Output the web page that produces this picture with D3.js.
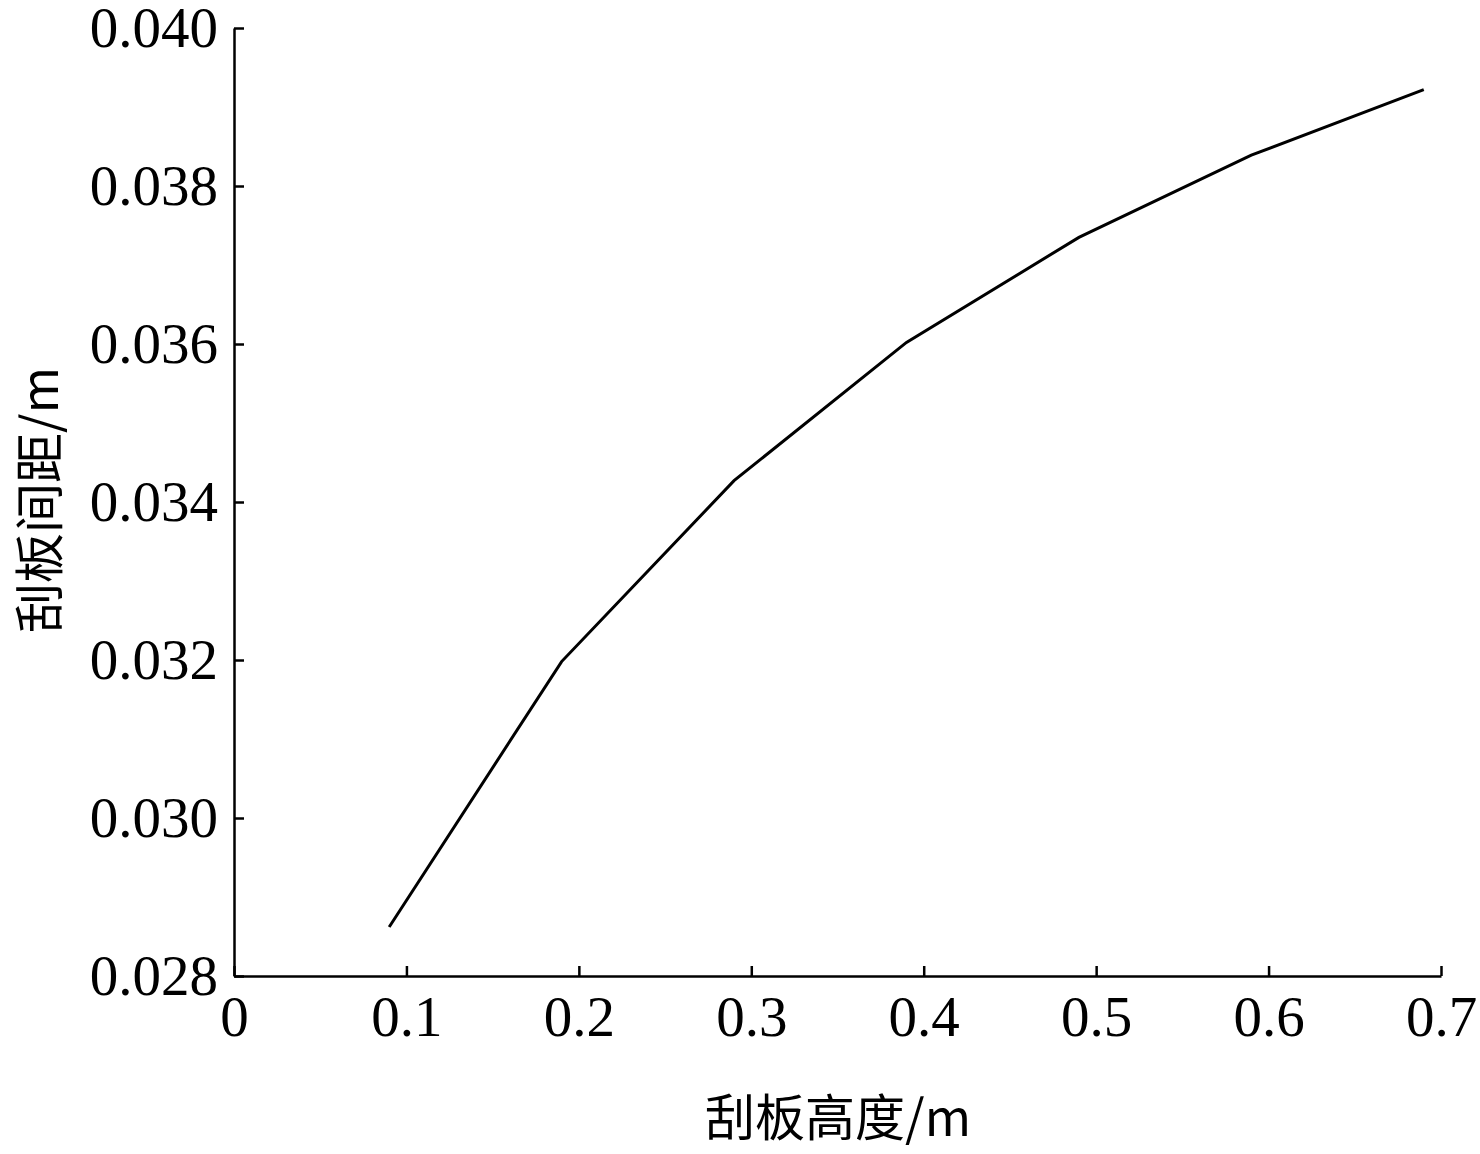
<!DOCTYPE html>
<html><head><meta charset="utf-8">
<script src="https://cdn.jsdelivr.net/npm/d3@7"></script>
<style>body{margin:0;background:#fff}</style></head>
<body><svg id="c" width="1480" height="1154"></svg>
<script>
const xValues=[0.09,0.19,0.29,0.39,0.49,0.59,0.69];
const yValues=[0.02862,0.03198,0.03427,0.03602,0.03735,0.03839,0.03922];
const xTicks=[0,0.1,0.2,0.3,0.4,0.5,0.6,0.7];
const yTicks=[0.028,0.030,0.032,0.034,0.036,0.038,0.040];
const svg=d3.select("#c");
const x=d3.scaleLinear().domain([0,0.7]).range([234,1441]);
const y=d3.scaleLinear().domain([0.028,0.040]).range([976,28]);
const font="'Liberation Serif','Times New Roman',serif";
const xa=svg.append("g").attr("transform","translate(0,976)")
 .call(d3.axisBottom(x).tickValues(xTicks).tickSizeInner(-10).tickSizeOuter(0).tickPadding(20).tickFormat(d=>d===0?"0":d3.format(".1f")(d)));
const ya=svg.append("g").attr("transform","translate(234,0)")
 .call(d3.axisLeft(y).tickValues(yTicks).tickSizeInner(-10).tickSizeOuter(0).tickPadding(16).tickFormat(d3.format(".3f")));
[xa,ya].forEach(a=>{a.selectAll("path,line").attr("stroke","#000").attr("stroke-width",2.5);
 a.selectAll("text").attr("font-family",font).attr("font-size",57).attr("fill","#000");});
xa.selectAll("text").attr("dy","0.71em");
svg.append("path").datum(xValues.map((v,i)=>[v,yValues[i]]))
 .attr("d",d3.line().x(d=>x(d[0])).y(d=>y(d[1])))
 .attr("fill","none").attr("stroke","#000").attr("stroke-width",3);
svg.append("text").attr("x",838).attr("y",1136).attr("text-anchor","middle")
 .attr("font-family","'Noto Sans CJK SC',"+font).attr("font-size",50).text("刮板高度/m");
svg.append("text").attr("transform","translate(58,500) rotate(-90)").attr("text-anchor","middle")
 .attr("font-family","'Noto Sans CJK SC',"+font).attr("font-size",50).text("刮板间距/m");
</script></body></html>
